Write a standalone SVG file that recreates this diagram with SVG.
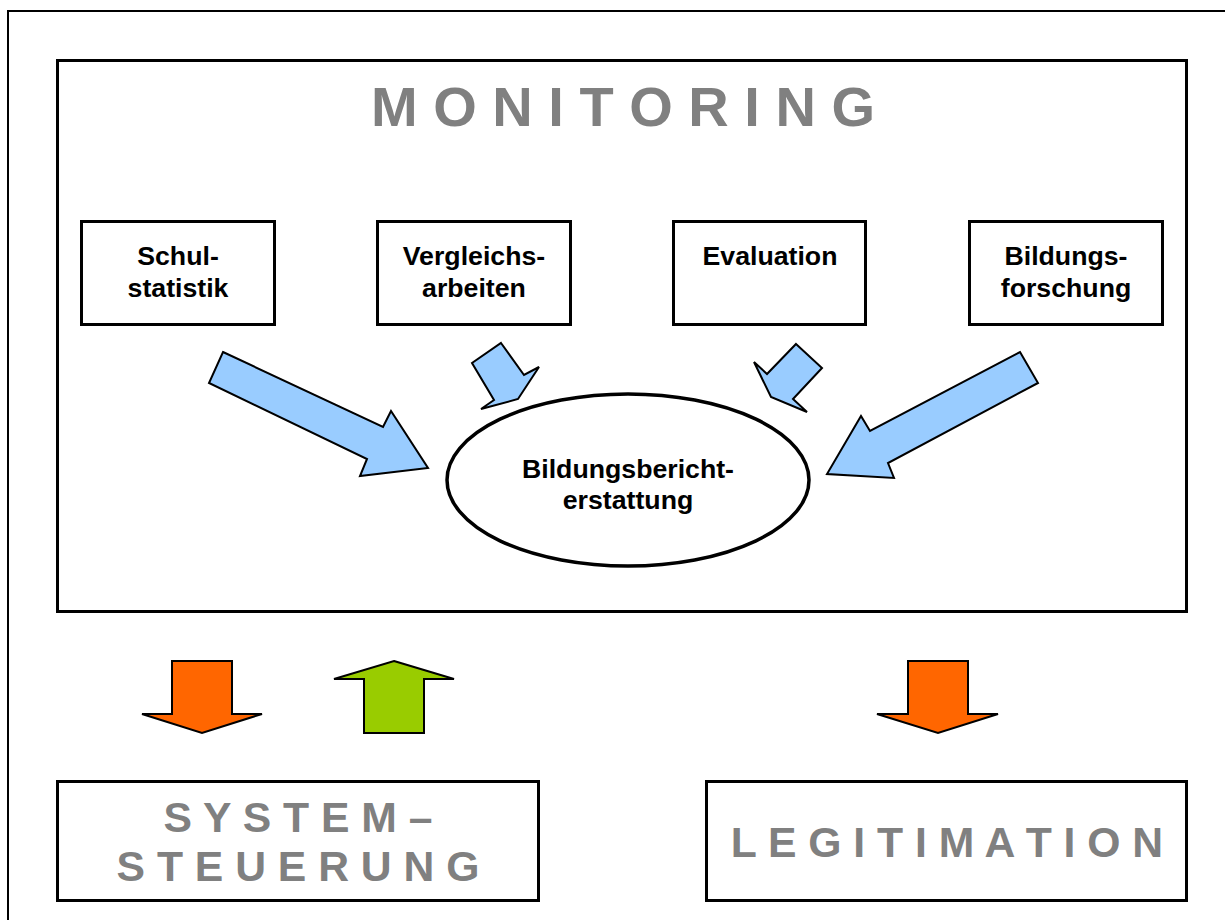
<svg xmlns="http://www.w3.org/2000/svg" width="1225" height="920" viewBox="0 0 1225 920">
<style>
.frame{fill:none;stroke:#000;stroke-width:2}
.box{fill:#fff;stroke:#000;stroke-width:3}
.lbl{font-family:"Liberation Sans",Arial,sans-serif;font-weight:bold;font-size:26.7px;fill:#000;text-anchor:middle}
.big{font-family:"Liberation Sans",Arial,sans-serif;font-weight:bold;font-size:42.7px;fill:#808080;text-anchor:middle}
.title{font-family:"Liberation Sans",Arial,sans-serif;font-weight:bold;font-size:56px;fill:#808080;text-anchor:middle}
.blue{fill:#99CCFF;stroke:#000;stroke-width:2;stroke-linejoin:miter}
.orange{fill:#FF6600;stroke:#000;stroke-width:2}
.green{fill:#99CC00;stroke:#000;stroke-width:2}
</style>
<rect x="0" y="0" width="1225" height="920" fill="#fff"/>
<rect class="frame" x="8" y="11" width="1240" height="930"/>
<g id="monitoring">
<rect class="box" x="57.5" y="60.5" width="1129" height="551"/>
<text class="title" x="623" y="126" xml:space="preserve">M O N I T O R I N G</text>
</g>
<g id="schulstatistik">
<rect class="box" x="81.5" y="221.5" width="193" height="103"/>
<text class="lbl" x="178" y="265">Schul-</text>
<text class="lbl" x="178" y="297">statistik</text>
</g>
<g id="vergleichsarbeiten">
<rect class="box" x="377.5" y="221.5" width="193" height="103"/>
<text class="lbl" x="474" y="265">Vergleichs-</text>
<text class="lbl" x="474" y="297">arbeiten</text>
</g>
<g id="evaluation">
<rect class="box" x="673.5" y="221.5" width="192" height="103"/>
<text class="lbl" x="770" y="265">Evaluation</text>
</g>
<g id="bildungsforschung">
<rect class="box" x="969.5" y="221.5" width="193" height="103"/>
<text class="lbl" x="1066" y="265">Bildungs-</text>
<text class="lbl" x="1066" y="297">forschung</text>
</g>
<g id="bildungsberichterstattung">
<ellipse cx="628" cy="480" rx="181" ry="86" fill="#fff" stroke="#000" stroke-width="3.5"/>
<text class="lbl" x="628" y="478">Bildungsbericht-</text>
<text class="lbl" x="628" y="509">erstattung</text>
</g>
<g id="systemsteuerung">
<rect class="box" x="57.5" y="781.5" width="481" height="119"/>
<text class="big" x="298" y="832" xml:space="preserve">S Y S T E M –</text>
<text class="big" x="298" y="881" xml:space="preserve">S T E U E R U N G</text>
</g>
<g id="legitimation">
<rect class="box" x="706.5" y="781.5" width="480" height="119"/>
<text class="big" x="947" y="857" xml:space="preserve">L E G I T I M A T I O N</text>
</g>
<g id="connectors">
<polygon class="blue" points="223,352 383,427 391,411 428,468 360,476 367,459 209,383"/>
<polygon class="blue" points="501,343 524,375 539,367 518,399 481,409 494,400 472,363"/>
<polygon class="blue" points="796,344 822,368 793,399 807,412 771,397 754,362 767,374"/>
<polygon class="blue" points="1020,352 1038,383 888,463 894,478 827,474 861,416 870,431"/>
<polygon class="orange" points="172,661 232,661 232,714 262,714 202,733 142,714 172,714"/>
<polygon class="green" points="394,661 454,679 424,679 424,733 364,733 364,679 334,679"/>
<polygon class="orange" points="908,661 968,661 968,714 998,714 938,733 877,714 908,714"/>
</g>
</svg>
